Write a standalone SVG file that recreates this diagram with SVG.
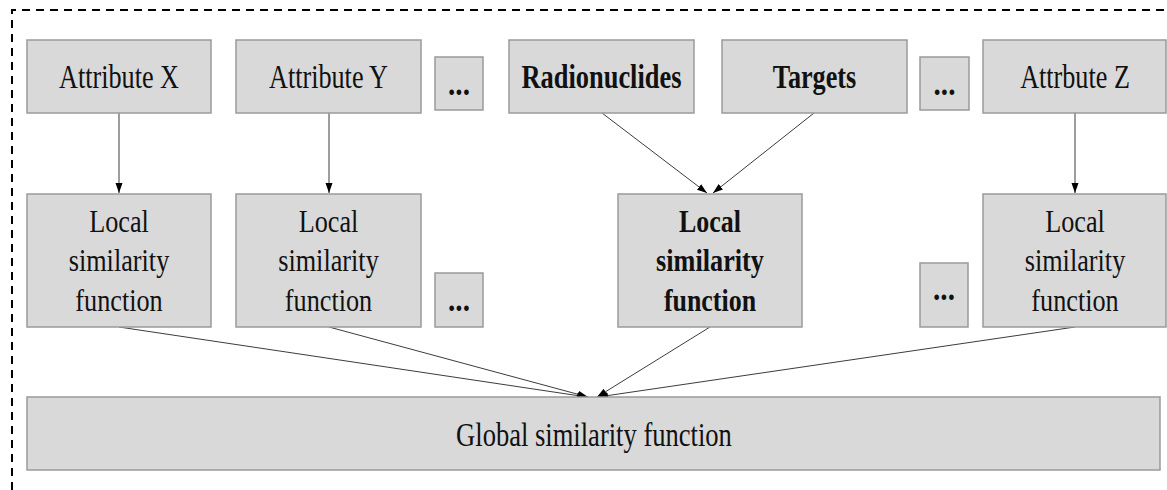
<svg xmlns="http://www.w3.org/2000/svg" width="1167" height="490" viewBox="0 0 1167 490">
<style>
.box{fill:#d9d9d9;stroke:#9a9a9a;stroke-width:1.5}
.c{stroke:#3c3c3c;stroke-width:1;fill:none;marker-end:url(#ah)}
</style>
<defs>
<marker id="ah" markerUnits="userSpaceOnUse" markerWidth="10" markerHeight="8" refX="10" refY="3.5" orient="auto">
<path d="M0,0 L10,3.5 L0,7 z" fill="#000"/>
</marker>
</defs>
<rect width="1167" height="490" fill="#fff"/>
<path d="M12,490 L12,10 L1167,10" fill="none" stroke="#000" stroke-width="2" stroke-dasharray="8,6"/>
<g id="connectors">
<line class="c" x1="119" y1="113" x2="119" y2="193"/>
<line class="c" x1="329" y1="113" x2="329" y2="193"/>
<line class="c" x1="602" y1="113" x2="707" y2="193"/>
<line class="c" x1="814" y1="113" x2="713" y2="193"/>
<line class="c" x1="1075" y1="113" x2="1075" y2="193"/>
<line class="c" x1="119" y1="327" x2="587" y2="397"/>
<line class="c" x1="329" y1="327" x2="588" y2="397"/>
<line class="c" x1="710" y1="327" x2="597" y2="397"/>
<line class="c" x1="1075" y1="327" x2="598" y2="397"/>
</g>
<g font-family="Liberation Serif, serif" fill="#111" text-anchor="middle">
<g id="attrX" font-size="34"><rect class="box" x="27" y="40" width="184" height="73"/><text transform="translate(119,88) scale(0.77,1)">Attribute X</text></g>
<g id="attrY" font-size="34"><rect class="box" x="236" y="40" width="185" height="73"/><text transform="translate(328.5,88) scale(0.77,1)">Attribute Y</text></g>
<g id="dots1" font-size="34" font-weight="bold"><rect class="box" x="435" y="57" width="48" height="53"/><text transform="translate(459,95) scale(0.86,1)">...</text></g>
<g id="radionuclides" font-size="34" font-weight="bold"><rect class="box" x="509" y="40" width="185" height="73"/><text transform="translate(601.5,88) scale(0.777,1)">Radionuclides</text></g>
<g id="targets" font-size="34" font-weight="bold"><rect class="box" x="722" y="40" width="185" height="73"/><text transform="translate(814.5,88) scale(0.77,1)">Targets</text></g>
<g id="dots2" font-size="34" font-weight="bold"><rect class="box" x="920" y="57" width="49" height="53"/><text transform="translate(944.5,95) scale(0.86,1)">...</text></g>
<g id="attrZ" font-size="34"><rect class="box" x="983" y="40" width="183" height="73"/><text transform="translate(1075,88) scale(0.77,1)">Attrbute Z</text></g>
<g id="localX" font-size="32"><rect class="box" x="27" y="194" width="184" height="133"/>
<text transform="translate(119,232) scale(0.82,1)">Local</text>
<text transform="translate(119,271) scale(0.82,1)">similarity</text>
<text transform="translate(119,311) scale(0.82,1)">function</text></g>
<g id="localY" font-size="32"><rect class="box" x="236" y="194" width="185" height="133"/>
<text transform="translate(328.5,232) scale(0.82,1)">Local</text>
<text transform="translate(328.5,271) scale(0.82,1)">similarity</text>
<text transform="translate(328.5,311) scale(0.82,1)">function</text></g>
<g id="dots3" font-size="34" font-weight="bold"><rect class="box" x="435" y="273" width="48" height="54"/><text transform="translate(459,311) scale(0.86,1)">...</text></g>
<g id="localRT" font-size="32" font-weight="bold"><rect class="box" x="618" y="194" width="184" height="133"/>
<text transform="translate(710,232) scale(0.81,1)">Local</text>
<text transform="translate(710,271) scale(0.82,1)">similarity</text>
<text transform="translate(710,311) scale(0.81,1)">function</text></g>
<g id="dots4" font-size="34" font-weight="bold"><rect class="box" x="920" y="263" width="48" height="64"/><text transform="translate(944,300) scale(0.86,1)">...</text></g>
<g id="localZ" font-size="32"><rect class="box" x="983" y="194" width="183" height="133"/>
<text transform="translate(1075,232) scale(0.82,1)">Local</text>
<text transform="translate(1075,271) scale(0.82,1)">similarity</text>
<text transform="translate(1075,311) scale(0.82,1)">function</text></g>
<g id="global" font-size="33"><rect class="box" x="27" y="397" width="1133" height="73"/><text transform="translate(594,446) scale(0.805,1)">Global similarity function</text></g>
</g>
</svg>
